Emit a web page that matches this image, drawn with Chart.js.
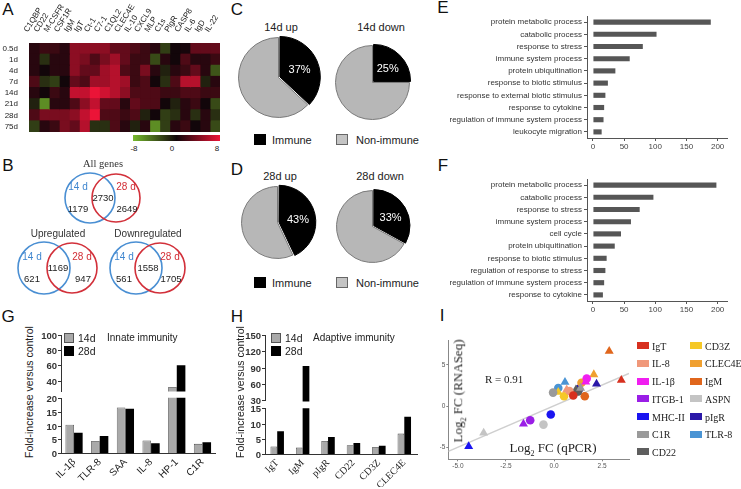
<!DOCTYPE html>
<html>
<head>
<meta charset="utf-8">
<script src="https://cdn.jsdelivr.net/npm/chart.js@4.4.1/dist/chart.umd.min.js"></script>
<style>
  html, body { margin: 0; padding: 0; background: #fff; }
  #fig { position: relative; width: 741px; height: 489px; overflow: hidden; background: #fff; }
  canvas { position: absolute; }
</style>
</head>
<body>
<div id="fig"></div>
<script>
// ---- data ----
const heatRows = ['0.5d', '1d', '4d', '7d', '14d', '21d', '28d', '75d'];
const heatGenes = ['C1QBP', 'CD22', 'M-CSFR', 'CSF1R', 'IgM', 'IgT', 'Ct-1', 'C7-1', 'C1QL2', 'CLEC4E',
  'IL-10', 'CXCL9', 'MLP', 'C1s', 'PlgR', 'CASP8', 'IL-6', 'IgD', 'IL-22'];
// log2 fold change, one row per time point
const heatValues = [
  [0.8, 1.5, 1.5, 0.8, 4.5, 4.5, 4.5, 4.5, 3, 3, 2.2, 1.5, 0.8, -2.5, 0, 0.2, 3, 3, 3],
  [0.8, -1.8, 0.8, 0.8, 4.5, 3.8, 2.2, 3.8, 5.2, 3, 1.5, 1.5, -3, 0.8, 0, 2.2, 0.8, 0.8, 1.5],
  [0.8, 0, 0.8, 0.8, 4.5, 3, 3, 5.2, 6, 2.2, 1.5, 3.8, 0.8, -1.2, 0.8, 1.5, 3, 0.8, -3.5],
  [2.2, -1.8, -2.5, 0, 3, 2.2, 5.2, 5.2, 6, 5.2, 1.5, 2.2, 0, -1.8, 2.2, 6, 6, -1.2, 0.8],
  [0.8, 0, 1.5, 0.8, 6.5, 6.5, 8, 7, 6, 4.5, 2.2, 2.2, 2.2, 1.5, 1.5, 2.2, 2.2, 1.5, 1.5],
  [-1.2, -6, 0.8, 0.8, 2.2, 4.5, 6.5, 3, 3, 0.8, 3, 2.2, 2.2, 0, -1.2, 0.8, 1.5, 0, -3],
  [2.2, 3.8, 3.8, 3.8, 4.5, 6.5, 8, 2.2, 2.2, 1.5, 2.2, -1.2, 0, -2.5, -1.8, 0.8, -1.8, 0.8, -1.8],
  [-2.5, 0.8, 1.5, 3.8, 3, 6, -1.8, -1.8, 2.2, 0.8, -1.2, 0.8, -6, -2.5, 0.8, 1.5, 0, 0.8, -3]
];
const heatScaleTicks = [-8, 0, 8];

const vennTitles = ['All genes', 'Upregulated', 'Downregulated'];
const vennOnly14 = [1179, 621, 561];
const vennShared = [2730, 1169, 1558];
const vennOnly28 = [2649, 947, 1705];

const pieTitles = ['14d up', '14d down', '28d up', '28d down'];
const immunePct = [37, 25, 43, 33];

const goTerms14 = ['protein metabolic process', 'catabolic process', 'response to stress', 'immune system process',
  'protein ubiquitination', 'response to biotic stimulus', 'response to external biotic stimulus',
  'response to cytokine', 'regulation of immune system process', 'leukocyte migration'];
const goCounts14 = [189, 102, 80, 59, 36, 24, 20, 18, 17, 14];
const goTerms28 = ['protein metabolic process', 'catabolic process', 'response to stress', 'immune system process',
  'cell cycle', 'protein ubiquitination', 'response to biotic stimulus', 'regulation of response to stress',
  'regulation of immune system process', 'response to cytokine'];
const goCounts28 = [198, 97, 75, 61, 45, 35, 22, 20, 18, 16];
const goTicks = [0, 50, 100, 150, 200];

const innateGenes = ['IL-1β', 'TLR-8', 'SAA', 'IL-8', 'HP-1', 'C1R'];
const innate14 = [10.3, 4.4, 16.5, 4.6, 32, 3.4];
const innate28 = [7.4, 6.2, 16, 3.6, 60, 4.0];
const innateLowTicks = [0, 5, 10, 15, 20];
const innateHighTicks = [40, 60, 80, 100];
const adaptiveGenes = ['IgT', 'IgM', 'pIgR', 'CD22', 'CD3Z', 'CLEC4E'];
const adaptive14 = [2.5, 2.1, 4.3, 2.9, 2.3, 6.7];
const adaptive28 = [7.5, 93, 5.6, 3.6, 2.7, 12.2];
const adaptiveLowTicks = [0, 5, 10, 15];
const adaptiveHighTicks = [30, 60, 90, 120, 150];

const qpcrGenes = ['IgT', 'IL-8', 'IL-1β', 'ITGB-1', 'MHC-II', 'C1R', 'CD22',
  'CD3Z', 'CLEC4E', 'IgM', 'ASPN', 'pIgR', 'TLR-8'];
const qpcrCircleX = [1.0, 0.8, 1.7, -1.24, -0.17, -0.05, 1.25, 0.52, 1.43, 1.6, -0.55, 1.3, 0.22];
const rnaCircleY = [1.3, 1.85, 3.35, -1.69, -1.0, 1.65, 1.8, 1.21, 2.83, 1.21, -2.21, 2.1, 2.2];
const qpcrTriX = [3.5, 0.66, 1.65, -1.59, -4.44, 1.38, 1.14, 0.22, 2.07, 2.87, -3.66, 2.21, 0.57];
const rnaTriY = [3.15, 2.0, 2.95, -2.13, -4.84, 2.2, 2.0, 1.7, 3.83, 6.65, -3.22, 2.7, 2.9];
const fitSlope = 1.0;
const fitIntercept = 0.05;
const fitR = 0.91;

// ---- styles ----
const SANS = '"Liberation Sans", Arial, sans-serif';
const SERIF = '"Liberation Serif", "Times New Roman", serif';
const geneColours = ['#d7301f', '#f0987a', '#f01ef0', '#9a1ee6', '#1a14f0', '#9a9a9a', '#5e5e5e',
  '#f5c827', '#f0a030', '#e0661c', '#c4c4c4', '#2a18a8', '#4a94d4'];

Chart.defaults.font.family = SANS;
Chart.defaults.color = '#222';
Chart.defaults.animation = false;
Chart.defaults.responsive = false;
Chart.defaults.layout.autoPadding = false;
Chart.defaults.plugins.legend.display = false;
Chart.defaults.plugins.tooltip.enabled = false;

const fig = document.getElementById('fig');

function makeCanvas(x, y, w, h) {
  const c = document.createElement('canvas');
  c.width = w; c.height = h;
  c.style.left = x + 'px'; c.style.top = y + 'px';
  c.style.width = w + 'px'; c.style.height = h + 'px';
  fig.appendChild(c);
  return c;
}

function label(text, x, y, o = {}) {
  const d = document.createElement('div');
  d.innerHTML = text;
  const align = o.align || 'center';
  const tx = align === 'center' ? '-50%' : align === 'right' ? '-100%' : '0';
  d.style.cssText = 'position:absolute;white-space:nowrap;line-height:1;left:' + x + 'px;top:' + y + 'px;' +
    'font:' + (o.weight || 'normal') + ' ' + (o.size || 11) + 'px ' + (o.family || SANS) + ';' +
    'color:' + (o.color || '#222') + ';transform:translate(' + tx + ',-50%)' +
    (o.rotate ? ' rotate(' + o.rotate + 'deg)' : '') + ';' + (o.z ? 'z-index:' + o.z + ';' : '');
  fig.appendChild(d);
}

function box(x, y, w, h, fill, border, z) {
  const d = document.createElement('div');
  d.style.cssText = 'position:absolute;box-sizing:border-box;left:' + x + 'px;top:' + y + 'px;width:' + w +
    'px;height:' + h + 'px;background:' + fill + ';' + (border ? 'border:1px solid ' + border + ';' : '') +
    (z ? 'z-index:' + z + ';' : '');
  fig.appendChild(d);
}

// pin an axis to a fixed size so the plot areas line up with the figure
function pin(size) {
  return s => {
    if (s.isHorizontal()) s.height = size; else s.width = size;
    s.paddingTop = 0; s.paddingBottom = 0; s.paddingLeft = 0; s.paddingRight = 0;
  };
}
const tickList = list => s => { s.ticks = list.map(v => ({ value: v })); };

// panel letters
[['A', 8, 10], ['B', 8, 166], ['C', 237, 10], ['D', 237, 170], ['E', 443, 8], ['F', 443, 166],
 ['G', 8, 317], ['H', 237, 317], ['I', 442, 316]].forEach(([t, x, y]) => label(t, x, y, { size: 17, color: '#111' }));

// ---- A: heatmap ----
function heatColour(v) {
  const t = Math.min(Math.abs(v) / 8, 1);
  if (v >= 0) return 'rgb(' + Math.round(18 + 217 * t) + ',' + Math.round(6 + 14 * t) + ',' + Math.round(10 + 45 * t) + ')';
  return 'rgb(' + Math.round(18 + 100 * t) + ',' + Math.round(6 + 180 * t) + ',' + Math.round(10 + 35 * t) + ')';
}

new Chart(makeCanvas(0, 0, 235, 134), {
  type: 'bar',
  data: {
    labels: heatRows,
    datasets: heatGenes.map((g, j) => ({
      label: g,
      data: heatRows.map(() => 1),
      backgroundColor: heatRows.map((r, i) => heatColour(heatValues[i][j])),
      xAxisID: 'x', yAxisID: 'y',
      barPercentage: 1, categoryPercentage: 1, inflateAmount: 0.5, borderWidth: 0
    }))
  },
  options: {
    indexAxis: 'y',
    layout: { padding: { top: 0, right: 15, bottom: 2, left: 0 } },
    scales: {
      x: { type: 'linear', stacked: true, min: 0, max: heatGenes.length, display: false },
      xTop: {
        type: 'category', axis: 'x', position: 'top', labels: heatGenes, offset: true,
        grid: { display: false }, border: { display: false },
        ticks: { autoSkip: false, minRotation: 58, maxRotation: 58, padding: 1, font: { size: 8 }, color: '#222' },
        afterFit: pin(43)
      },
      y: {
        stacked: true, grid: { display: false }, border: { display: false },
        ticks: { font: { size: 8 }, color: '#222', padding: 3, autoSkip: false },
        afterFit: pin(29)
      }
    }
  }
});
(function () {
  const d = document.createElement('div');
  d.style.cssText = 'position:absolute;left:133px;top:135px;width:87px;height:6px;' +
    'background:linear-gradient(to right,' + heatColour(-8) + ',' + heatColour(0) + ',' + heatColour(8) + ');';
  fig.appendChild(d);
})();
heatScaleTicks.forEach((t, i) => label(String(t), [134, 172, 217][i], 148, { size: 8 }));

// ---- B: Venn diagrams ----
const vennLayout = [{ bx: 90, d: 26, by: 198, r: 25 }, { bx: 44, d: 28, by: 268, r: 26 }, { bx: 136, d: 24, by: 268, r: 26 }];
const vennText = {
  id: 'vennText',
  afterDatasetsDraw(chart) {
    const { ctx, scales: { x, y } } = chart;
    const put = (t, px, py, font, colour) => {
      ctx.font = font; ctx.fillStyle = colour; ctx.textAlign = 'center'; ctx.textBaseline = 'middle';
      ctx.fillText(t, x.getPixelForValue(px), y.getPixelForValue(py));
    };
    ctx.save();
    vennLayout.forEach((L, i) => {
      const mid = L.bx + L.d / 2;
      put(vennTitles[i], mid, L.by - 34, i === 0 ? '10.5px ' + SERIF : '10px ' + SANS, '#333');
      put('14 d', L.bx - 12, L.by - 11, '10px ' + SANS, '#3f86cf');
      put('28 d', L.bx + L.d + 10, L.by - 11, '10px ' + SANS, '#d22d35');
      put(String(vennShared[i]), mid, L.by, '9.5px ' + SANS, '#222');
      put(String(vennOnly14[i]), L.bx - 12, L.by + 11, '9.5px ' + SANS, '#222');
      put(String(vennOnly28[i]), L.bx + L.d + 11, L.by + 11, '9.5px ' + SANS, '#222');
    });
    ctx.restore();
  }
};
new Chart(makeCanvas(0, 160, 230, 140), {
  type: 'bubble',
  data: {
    datasets: [{
      data: vennLayout.flatMap(L => [{ x: L.bx, y: L.by, r: L.r }, { x: L.bx + L.d, y: L.by, r: L.r - 1 }]),
      backgroundColor: 'rgba(0,0,0,0)',
      borderColor: vennLayout.flatMap(() => ['#4a8fd3', '#d2303a']),
      borderWidth: 1.6, clip: false
    }]
  },
  options: {
    layout: { padding: 0, autoPadding: false },
    scales: {
      x: { type: 'linear', min: 0, max: 230, display: false },
      y: { type: 'linear', min: 160, max: 300, reverse: true, display: false }
    }
  },
  plugins: [vennText]
});

// ---- C / D: pies ----
const pctLabel = {
  id: 'pctLabel',
  afterDatasetsDraw(chart) {
    const arc = chart.getDatasetMeta(0).data[0];
    const p = arc.tooltipPosition();
    const { ctx } = chart;
    ctx.save();
    ctx.font = '11px ' + SANS; ctx.fillStyle = '#fff'; ctx.textAlign = 'center'; ctx.textBaseline = 'middle';
    ctx.fillText(chart.data.datasets[0].data[0] + '%', p.x, p.y + 2);
    ctx.restore();
  }
};
const pieGeom = [{ cx: 278, cy: 77, r: 40 }, { cx: 372, cy: 82, r: 37 }, { cx: 277, cy: 222, r: 36 }, { cx: 372, cy: 226, r: 36 }];
pieGeom.forEach((g, i) => {
  const off = 6, size = 2 * g.r + off + 1;
  new Chart(makeCanvas(g.cx - size / 2, g.cy - size / 2, size, size), {
    type: 'pie',
    data: {
      labels: ['Immune', 'Non-immune'],
      datasets: [{
        data: [immunePct[i], 100 - immunePct[i]],
        backgroundColor: ['#000', '#b7b7b7'], borderColor: ['#000', '#7a7a7a'],
        borderWidth: 1, offset: [off, 0]
      }]
    },
    options: { layout: { padding: 0 } },
    plugins: [pctLabel]
  });
});
[[281, 27], [381, 27], [280, 176], [380, 176]].forEach(([x, y], i) => label(pieTitles[i], x, y, { size: 11 }));
[140, 283].forEach(y => {
  box(254, y - 6, 12, 11, '#000');
  label('Immune', 272, y, { align: 'left', size: 11 });
  box(336, y - 6, 12, 11, '#c4c4c4', '#666');
  label('Non-immune', 356, y, { align: 'left', size: 11 });
});

// ---- E / F: GO term bars ----
function goChart(rect, terms, counts, padTop, xHeight) {
  return new Chart(makeCanvas(...rect), {
    type: 'bar',
    data: { labels: terms, datasets: [{ data: counts, backgroundColor: '#565656', barPercentage: 0.42, categoryPercentage: 1 }] },
    options: {
      indexAxis: 'y',
      layout: { padding: { top: padTop, right: 14, bottom: 0, left: 0 } },
      scales: {
        x: {
          min: -9.5, max: 215,
          afterBuildTicks: tickList(goTicks),
          grid: { drawOnChartArea: false, tickLength: 3, color: '#555' },
          border: { color: '#555' },
          ticks: { font: { size: 8 }, color: '#444', padding: 1, maxRotation: 0 },
          afterFit: pin(xHeight)
        },
        y: {
          grid: { drawOnChartArea: false, tickLength: 3, color: '#555', offset: false },
          border: { color: '#555' },
          ticks: { font: { size: 8 }, color: '#333', padding: 2, autoSkip: false },
          afterFit: pin(147)
        }
      }
    }
  });
}
goChart([440, 0, 301, 155], goTerms14, goCounts14, 16, 17);
goChart([440, 160, 301, 160], goTerms28, goCounts28, 19, 19);

// ---- G / H: qPCR fold change with broken axis ----
const valueAxes = [];
function foldBars(rect, pad, yWidth, xHeight, labels, d14, d28, yMin, yMax, ticks, catPct, xFont) {
  const grey = { backgroundColor: '#a9a9a9', borderColor: '#4a4a4a', borderWidth: 0.8 };
  const cut = v => (yMin > 0 && v <= yMin ? null : v);
  const chart = new Chart(makeCanvas(...rect), {
    type: 'bar',
    data: {
      labels,
      datasets: [
        Object.assign({ data: d14.map(cut) }, grey),
        { data: d28.map(cut), backgroundColor: '#000', borderWidth: 0 }
      ]
    },
    options: {
      layout: { padding: pad },
      datasets: { bar: { barPercentage: 1, categoryPercentage: catPct } },
      scales: {
        x: xHeight ? {
          grid: { display: true, drawOnChartArea: false, drawTicks: false },
          border: { color: '#333' },
          ticks: { autoSkip: false, minRotation: 45, maxRotation: 45, padding: 3, font: xFont, color: '#222' },
          afterFit: pin(xHeight)
        } : { display: false },
        y: {
          min: yMin, max: yMax,
          grid: { display: false }, border: { display: false }, ticks: { display: false },
          afterFit: pin(yWidth)
        }
      }
    }
  });
  valueAxes.push({ chart, ticks, ox: rect[0], oy: rect[1] });
  return chart;
}
// G innate
foldBars([35, 392, 190, 92], { top: 5.7, right: 9.7, bottom: 0, left: 0 }, 26.2, 30.7, innateGenes, innate14, innate28,
  0, 20, innateLowTicks, 0.67, { size: 10, family: SANS });
foldBars([35, 328, 190, 64], { top: 6.5, right: 9.7, bottom: 0.5, left: 0 }, 26.2, 0, innateGenes, innate14, innate28,
  26, 100, innateHighTicks, 0.67);
// H adaptive
foldBars([240, 402, 185, 85], { top: 6.3, right: 8, bottom: 0, left: 0 }, 24.5, 33, adaptiveGenes, adaptive14, adaptive28,
  0, 15, adaptiveLowTicks, 0.53, { size: 10, family: SERIF });
foldBars([240, 330, 185, 72], { top: 5, right: 8, bottom: 0.6, left: 0 }, 24.5, 0, adaptiveGenes, adaptive14, adaptive28,
  28, 150, adaptiveHighTicks, 0.53);

label('Fold-increase versus control', 29, 392, { size: 10.5, rotate: -90 });
label('Fold-increase versus control', 240, 392, { size: 10.5, rotate: -90 });
[[64, 107, 'Innate immunity'], [271, 313, 'Adaptive immunity']].forEach(([x, tx, title]) => {
  box(x, 333, 10, 10, '#a9a9a9', '#555');
  label('14d', x + 14, 338, { align: 'left', size: 10.5 });
  box(x, 346, 10, 10, '#000');
  label('28d', x + 14, 351, { align: 'left', size: 10.5 });
  label(title, tx, 337, { align: 'left', size: 10 });
});

// ---- I: qPCR vs RNA-seq scatter ----
const xMin = -5.5, xMax = 3.9;
new Chart(makeCanvas(440, 320, 195, 152), {
  type: 'scatter',
  data: {
    datasets: qpcrGenes.map((g, i) => ({
      label: g,
      data: [{ x: qpcrCircleX[i], y: rnaCircleY[i] }, { x: qpcrTriX[i], y: rnaTriY[i] }],
      pointStyle: ['circle', 'triangle'],
      pointRadius: [4.3, 5.2],
      backgroundColor: geneColours[i], borderColor: geneColours[i], borderWidth: 0,
      order: 0
    })).concat([{
      type: 'line',
      data: [xMin, xMax].map(x => ({ x, y: fitSlope * x + fitIntercept })),
      borderColor: '#cfcfcf', borderWidth: 1.5, pointRadius: 0, order: 1
    }])
  },
  options: {
    layout: { padding: { top: 20, right: 6, bottom: 0, left: 0 } },
    scales: {
      x: {
        type: 'linear', min: xMin, max: xMax,
        afterBuildTicks: tickList([-5, -2.5, 0, 2.5]),
        grid: { drawOnChartArea: false, tickLength: 2, color: '#888' },
        border: { color: '#888' },
        ticks: { font: { size: 6.5 }, color: '#555', padding: 1, maxRotation: 0, callback: v => v.toFixed(1) },
        afterFit: pin(12.7)
      },
      y: {
        min: -6.4, max: 8,
        afterBuildTicks: tickList([-5, 0, 5]),
        grid: { drawOnChartArea: false, tickLength: 2, color: '#888' },
        border: { color: '#888' },
        ticks: { font: { size: 6.5 }, color: '#555', padding: 1 },
        afterFit: pin(8.3)
      }
    }
  }
});
label('Log<sub style="font-size:8px">2</sub> FC (RNASeq)', 459, 391, { size: 13, family: SERIF, rotate: -90 });
label('Log<sub style="font-size:8px">2</sub> FC (qPCR)', 553, 449, { size: 13, family: SERIF });
label('R = ' + fitR, 485, 379, { align: 'left', size: 11, family: SERIF });
qpcrGenes.forEach((g, i) => {
  const col = i < 7 ? 0 : 1, row = i < 7 ? i : i - 7;
  const y = 345.7 + row * 17.7;
  box(col ? 690 : 637, y - 3.5, 12, 7, geneColours[i]);
  label(g, col ? 705 : 652, y, { align: 'left', size: 10, family: SERIF });
});

// value axes of the broken-axis panels, placed from each chart's y scale, kept on top of everything
valueAxes.forEach(({ chart, ticks, ox, oy }) => {
  const a = chart.chartArea, y = chart.scales.y;
  const x0 = ox + Math.round(a.left);
  box(x0, oy + a.top, 1, a.bottom - a.top, '#333', null, 20);
  ticks.forEach(v => {
    const py = oy + y.getPixelForValue(v);
    box(x0 - 3, Math.round(py), 3, 1, '#333', null, 20);
    label(String(v), x0 - 4, py, { align: 'right', size: 9.5, weight: 'bold', color: '#333', z: 20 });
  });
});
</script>
</body>
</html>
